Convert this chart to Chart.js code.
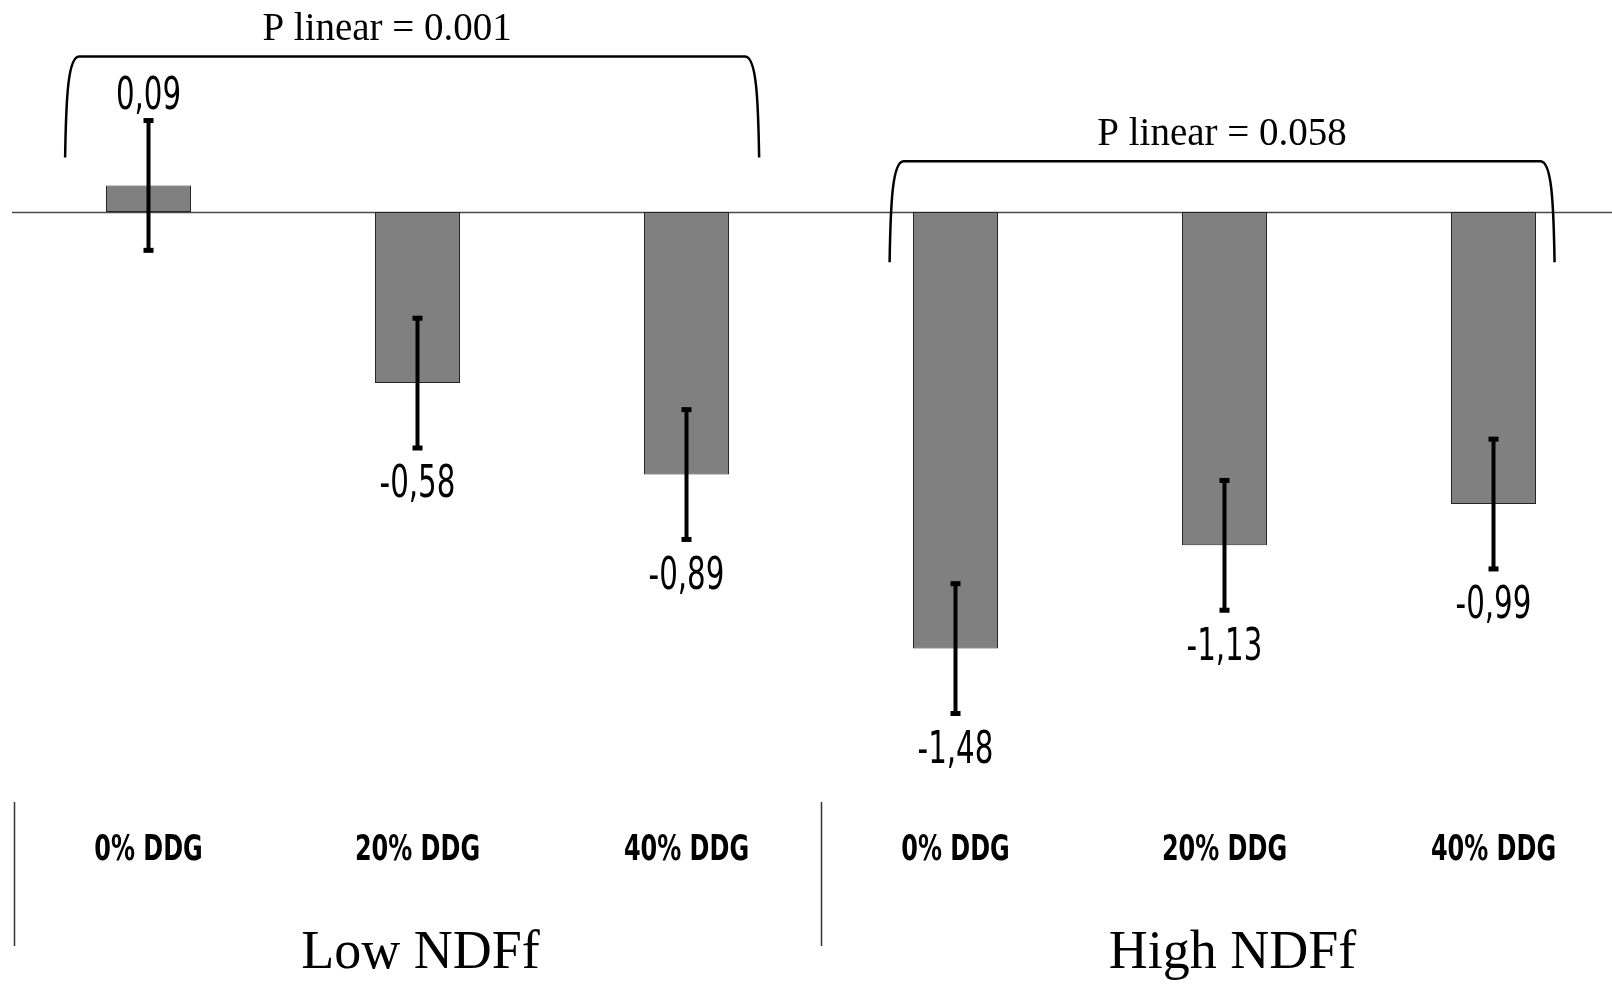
<!DOCTYPE html>
<html>
<head>
<meta charset="utf-8">
<script src="https://cdn.jsdelivr.net/npm/chart.js@4.4.0/dist/chart.umd.min.js"></script>
<style>
  html, body { margin: 0; padding: 0; background: #fff; overflow: hidden; }
  #wrap { width: 1612px; height: 984px; overflow: hidden; }
</style>
</head>
<body>
<div id="wrap"><canvas id="chartNdf" width="1628" height="984"></canvas></div>
<script>
// data
const categories = ['0% DDG', '20% DDG', '40% DDG', '0% DDG', '20% DDG', '40% DDG'];
const groups = ['Low NDFf', 'High NDFf'];
const values = [0.09, -0.58, -0.89, -1.48, -1.13, -0.99];
const errors = [0.22, 0.22, 0.22, 0.22, 0.22, 0.22];
const pLinear = ['P linear = 0.001', 'P linear = 0.058'];

// brackets over each group: first/last bar, side overhang (share of a category), height in y units
const brackets = [
    { from: 0, to: 2, padL: 0.31, padR: 0.27, level: 0.527, dx: -25 },
    { from: 3, to: 5, padL: 0.245, padR: 0.227, level: 0.172, dx: 0 }
];

const fmt = v => v.toFixed(2).replace('.', ',');
const narrow = '"DejaVu Sans Condensed", "DejaVu Sans", sans-serif';

// squeezed text, the original uses a tall condensed face
function tallText(ctx, txt, x, y, sx) {
    ctx.save();
    ctx.translate(x, y);
    ctx.scale(sx, 1);
    ctx.fillText(txt, 0, 0);
    ctx.restore();
}

const extras = {
    id: 'extras',
    beforeDatasetsDraw(chart) {
        const ctx = chart.ctx, y = chart.scales.y;
        const y0 = Math.round(y.getPixelForValue(0)) + 0.5;
        ctx.save();
        ctx.strokeStyle = '#4a4a4a';
        ctx.lineWidth = 1.5;
        ctx.beginPath();
        ctx.moveTo(12, y0);
        ctx.lineTo(chart.width, y0);
        ctx.stroke();
        ctx.restore();
    },
    afterDatasetsDraw(chart) {
        const ctx = chart.ctx, y = chart.scales.y;
        const bars = chart.getDatasetMeta(0).data;
        ctx.save();
        values.forEach((v, i) => {
            const x = bars[i].x;
            const top = y.getPixelForValue(v + errors[i]);
            const bot = y.getPixelForValue(v - errors[i]);
            ctx.strokeStyle = '#000';
            ctx.lineWidth = 4;
            ctx.beginPath();
            ctx.moveTo(x, top);
            ctx.lineTo(x, bot);
            ctx.stroke();
            ctx.fillStyle = '#000';
            ctx.fillRect(x - 5, top - 2.5, 10, 5);
            ctx.fillRect(x - 5, bot - 2.5, 10, 5);

            ctx.font = '44px ' + narrow;
            ctx.textAlign = 'center';
            ctx.textBaseline = 'middle';
            const ty = v >= 0 ? top - 23 : bot + 38;
            tallText(ctx, fmt(v), x, ty, 0.74);
        });
        ctx.restore();
    },
    afterDraw(chart) {
        const ctx = chart.ctx, x = chart.scales.x, y = chart.scales.y;
        const w = x.getPixelForValue(1) - x.getPixelForValue(0);
        ctx.save();

        // brackets with p-values
        brackets.forEach((b, k) => {
            const left = x.getPixelForValue(b.from) - b.padL * w;
            const right = x.getPixelForValue(b.to) + b.padR * w;
            const top = y.getPixelForValue(b.level);
            const bottom = top + 101;
            ctx.strokeStyle = '#000';
            ctx.lineWidth = 2.5;
            ctx.beginPath();
            ctx.moveTo(left, bottom);
            ctx.bezierCurveTo(left + 1, top + 40, left + 3, top, left + 14, top);
            ctx.lineTo(right - 14, top);
            ctx.bezierCurveTo(right - 3, top, right - 1, top + 40, right, bottom);
            ctx.stroke();

            ctx.fillStyle = '#000';
            ctx.font = '39px "Liberation Serif", "Times New Roman", serif';
            ctx.textAlign = 'center';
            ctx.textBaseline = 'middle';
            ctx.fillText(pLinear[k], (left + right) / 2 + b.dx, top - 27);
        });

        // category names under each bar
        ctx.fillStyle = '#000';
        ctx.font = 'bold 36px ' + narrow;
        ctx.textAlign = 'center';
        ctx.textBaseline = 'middle';
        categories.forEach((c, i) => {
            tallText(ctx, c, x.getPixelForValue(i), 851, 0.74);
        });

        // group separators and group names
        ctx.strokeStyle = '#333';
        ctx.lineWidth = 1.5;
        [0, 3].forEach(i => {
            const sx = Math.round(x.getPixelForValue(i) - w / 2) + 0.5;
            ctx.beginPath();
            ctx.moveTo(sx, 802);
            ctx.lineTo(sx, 946);
            ctx.stroke();
        });
        ctx.font = '54px "Liberation Serif", "Times New Roman", serif';
        groups.forEach((g, k) => {
            const cx = (x.getPixelForValue(k * 3) + x.getPixelForValue(k * 3 + 2)) / 2;
            ctx.fillText(g, cx + (k ? 8 : 3), 954);
        });
        ctx.restore();
    }
};

new Chart(document.getElementById('chartNdf'), {
    type: 'bar',
    data: {
        labels: categories,
        datasets: [{
            data: values,
            backgroundColor: '#808080',
            borderColor: '#262626',
            borderWidth: 1,
            borderSkipped: false,
            barPercentage: 0.316,
            categoryPercentage: 1
        }]
    },
    options: {
        responsive: false,
        animation: false,
        layout: { padding: { left: 14, right: 0, top: 35, bottom: 211.5 } },
        plugins: {
            legend: { display: false },
            tooltip: { enabled: false }
        },
        scales: {
            x: { display: false },
            y: {
                display: false,
                min: -1.9,
                max: 0.6
            }
        }
    },
    plugins: [extras]
});
</script>
</body>
</html>
